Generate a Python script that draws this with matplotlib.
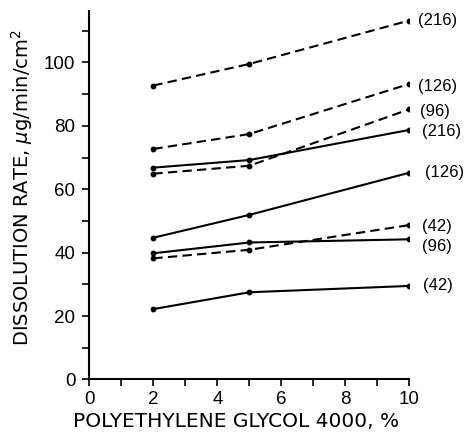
import matplotlib
matplotlib.use("Agg")
import matplotlib.pyplot as plt
from matplotlib.ticker import MultipleLocator

plt.rcParams['font.family'] = ['Liberation Sans', 'DejaVu Sans']

# PEG 4000 content, %
peg = [2, 5, 10]

# dashed curves
dashed_216 = [92.7, 99.5, 113.2]
dashed_126 = [72.7, 77.4, 93.2]
dashed_96 = [64.9, 67.4, 85.2]
dashed_42 = [38.2, 40.9, 48.7]

# solid curves
solid_216 = [66.8, 69.2, 78.7]
solid_126 = [44.7, 51.9, 65.2]
solid_96 = [39.8, 43.2, 44.2]
solid_42 = [22.2, 27.5, 29.5]

labels = ["(216)", "(126)", "(96)", "(42)"]

fig = plt.figure(figsize=(4.68, 4.33), dpi=100)
ax = fig.add_axes([0.191, 0.1236, 0.6836, 0.851])

series = [
    (dashed_216, '--', labels[0], (6, 0)),
    (dashed_126, '--', labels[1], (6, -2)),
    (dashed_96, '--', labels[2], (8, -1.7)),
    (solid_216, '-', labels[0], (9, -1.2)),
    (solid_126, '-', labels[1], (11.5, 0)),
    (dashed_42, '--', labels[3], (9, -0.7)),
    (solid_96, '-', labels[2], (9, -5.3)),
    (solid_42, '-', labels[3], (10, 0)),
]

for vals, ls, lab, off in series:
    line, = ax.plot(peg, vals, color='black', lw=1.5, marker='o', ms=3.2,
                    linestyle=ls)
    if ls == '--':
        line.set_dashes([4.5, 2.5])
    ax.annotate(lab, xy=(peg[-1], vals[-1]), xytext=off,
                textcoords='offset points', ha='left', va='center',
                fontsize=12, annotation_clip=False)

ax.set_xlim(0, 10)
ax.set_ylim(0, 116.2)
ax.xaxis.set_major_locator(MultipleLocator(2))
ax.xaxis.set_minor_locator(MultipleLocator(1))
ax.yaxis.set_minor_locator(MultipleLocator(10))
ax.set_yticks([0, 20, 40, 60, 80, 100])

for s in ['top', 'right']:
    ax.spines[s].set_visible(False)
for s in ['left', 'bottom']:
    ax.spines[s].set_linewidth(1.5)

ax.tick_params(which='both', direction='out', length=5, width=1.2,
               labelsize=13.5, pad=5)
ax.tick_params(axis='x', pad=3.5)

ax.set_xlabel("POLYETHYLENE GLYCOL 4000, %", fontsize=14.5,
              family='DejaVu Sans')
ax.set_ylabel(r"DISSOLUTION RATE, $\mu$g/min/cm$^2$", fontsize=14,
              family='DejaVu Sans')
ax.xaxis.set_label_coords(0.457, -0.088)
ax.yaxis.set_label_coords(-0.17, 0.52)

fig.savefig('out.png', dpi=100)
